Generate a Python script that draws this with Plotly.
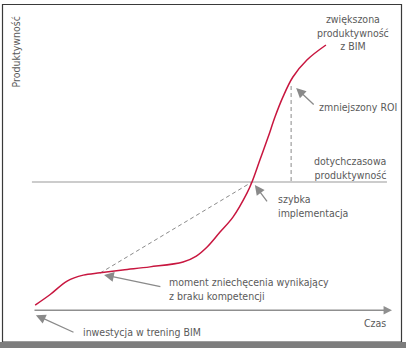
import plotly.graph_objects as go

# Data (time t: 0..100 along the time axis, productivity p: 0 at the time axis, 50 = current productivity)
curve_t = [0.6, 4.8, 9.5, 14.0, 18.7, 25.0, 32.6, 41.8, 45.5, 48.5, 52.1, 55.7, 59.6, 61.0, 63.2, 65.5, 67.4, 69.6, 72.4, 76.3, 81.6]
curve_p = [2.3, 6.4, 11.6, 13.9, 14.8, 15.9, 17.1, 19.0, 21.3, 24.8, 30.6, 36.4, 45.7, 50.0, 58.5, 67.4, 75.2, 82.9, 90.7, 97.3, 103.1]

baseline_t = [-0.3, 98.6]
baseline_p = [50, 50]

expected_t = [18.7, 61.0]
expected_p = [14.7, 50.0]

roi_t = [71.9, 71.9]
roi_p = [87.2, 50.0]

axis_t = [0, 100]
axis_p = [0.3, 0.3]

FONT = "Liberation Sans Narrow, DejaVu Sans Condensed, Roboto, sans-serif"
TXT = "#5a5a5a"
ARR = "#8a8a8a"
FS = 10.5

fig = go.Figure()
fig.add_trace(go.Scatter(x=baseline_t, y=baseline_p, mode="lines",
                         line=dict(color="#9a9a9a", width=1.2), hoverinfo="skip"))
fig.add_trace(go.Scatter(x=expected_t, y=expected_p, mode="lines",
                         line=dict(color="#8a8a8a", width=1, dash="4px,3px"), hoverinfo="skip"))
fig.add_trace(go.Scatter(x=roi_t, y=roi_p, mode="lines",
                         line=dict(color="#8a8a8a", width=1, dash="4px,3px"), hoverinfo="skip"))
fig.add_trace(go.Scatter(x=curve_t, y=curve_p, mode="lines", line_shape="spline",
                         line=dict(color="#c8163f", width=1.5), hoverinfo="skip"))

ann = []
# time axis arrow
ann.append(dict(x=axis_t[1], y=axis_p[1], ax=axis_t[0], ay=axis_p[0], xref="x", yref="y",
                axref="x", ayref="y", text="", showarrow=True, arrowhead=2, arrowsize=1.3,
                arrowwidth=1.3, arrowcolor="#8f8f8f"))
# pointer arrows: (head t, head p, tail t, tail p)
pointers = [(73.3, 86.4, 78.6, 79.5), (61.8, 48.8, 65.5, 41.9),
            (19.8, 14.0, 35.9, 9.3), (0.8, -1.6, 11.7, -8.5)]
for ht, hp, tt, tp in pointers:
    ann.append(dict(x=ht, y=hp, ax=tt, ay=tp, xref="x", yref="y", axref="x", ayref="y",
                    text="", showarrow=True, arrowhead=2, arrowsize=1.5, arrowwidth=1.3,
                    arrowcolor=ARR))

labels = [
    ("zwiększona<br>produktywność<br>z BIM", 89.1, 107.8, "center", "center"),
    ("zmniejszony ROI", 79.2, 79.0, "left", "left"),
    ("dotychczasowa<br>produktywność", 99.0, 55.4, "right", "right"),
    ("szybka<br>implementacja", 67.6, 40.7, "left", "left"),
    ("moment zniechęcenia wynikający<br>z braku kompetencji", 37.4, 8.5, "left", "left"),
    ("Czas", 98.8, -4.7, "right", "right"),
    ("inwestycja w trening BIM", 13.5, -8.1, "left", "left"),
]
for text, t, p, xa, al in labels:
    ann.append(dict(x=t, y=p, xref="x", yref="y", text=text, showarrow=False,
                    xanchor=xa, yanchor="middle", align=al,
                    font=dict(family=FONT, size=FS, color=TXT)))
ann.append(dict(x=-4.8, y=100.5, xref="x", yref="y", text="Produktywność", showarrow=False,
                textangle=-90, xanchor="center", yanchor="middle",
                font=dict(family=FONT, size=FS, color=TXT)))

shapes = [
    dict(type="rect", xref="paper", yref="paper", x0=2.5/406, x1=401.5/406,
         y0=1 - 342/348, y1=1 - 4.5/348, line=dict(color="#3a3a3a", width=1.2)),
    dict(type="rect", xref="paper", yref="paper", x0=0, x1=1, y0=0, y1=6/348,
         fillcolor="#7d7d7d", line=dict(width=0)),
]

fig.update_layout(
    width=406, height=348, margin=dict(l=0, r=0, t=0, b=0),
    paper_bgcolor="white", plot_bgcolor="white", showlegend=False,
    xaxis=dict(range=[-9.19, 103.9], visible=False, fixedrange=True),
    yaxis=dict(range=[-14.34, 120.54], visible=False, fixedrange=True),
    annotations=ann, shapes=shapes,
)
fig.write_html("out.html")
